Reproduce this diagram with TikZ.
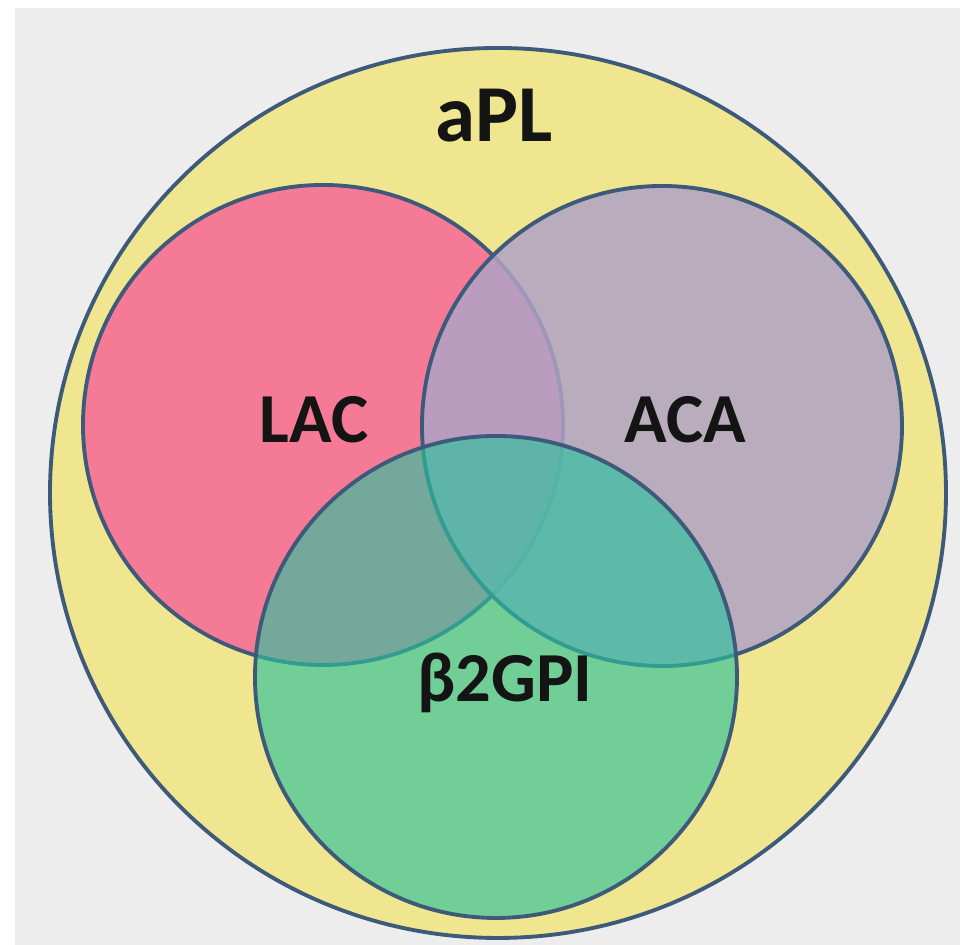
\documentclass[tikz,border=0pt]{standalone}
\usepackage{fontspec}
\setmainfont{Carlito}
\usepackage{tikz}
\usetikzlibrary{shapes.geometric,positioning}
\definecolor{bggrey}{RGB}{237,237,237}
\definecolor{rimblue}{RGB}{62,90,122}
\definecolor{aplyellow}{RGB}{239,230,143}
\definecolor{lacpink}{RGB}{244,122,150}
\definecolor{acapurple}{RGB}{175,162,198}
\definecolor{gpigreen}{RGB}{44,194,157}

\begin{document}
\begin{tikzpicture}[
  setcircle/.style={circle, draw=rimblue, line width=1.1pt,
    inner sep=0pt, outer sep=0pt, minimum size=4.8cm},
  setlabel/.style={font=\bfseries\fontsize{20}{24}\selectfont,
    text=black!92, inner sep=0pt}
]
  % page and backdrop
  \fill[white] (0,0) rectangle (9.6,9.45);
  \fill[bggrey] (0.15,0) rectangle (9.6,9.37);
  \useasboundingbox (0,0) rectangle (9.6,9.45);

  % all antiphospholipid antibodies
  \node[ellipse, draw=rimblue, line width=1.1pt, fill=aplyellow,
    inner sep=0pt, outer sep=0pt, minimum width=8.96cm,
    minimum height=8.90cm] (apl) at (4.98,4.52) {};

  % the three tests
  \node[setcircle, fill=lacpink] (lac) at (3.23,5.20) {};
  \node[setcircle, fill=acapurple, fill opacity=0.85] (aca) at (6.62,5.19) {};
  \node[setcircle, fill=gpigreen, fill opacity=0.64,
    minimum size=4.82cm] (gpi) at (4.96,2.68) {};

  \node[setlabel, font=\bfseries\fontsize{23}{28}\selectfont]
    (aplText) at (4.94,8.29) {aPL};
  \node[setlabel] (lacText) at ([xshift=-0.09cm, yshift=0.05cm]lac.center) {LAC};
  \node[setlabel] (acaText) at ([xshift=0.23cm, yshift=0.06cm]aca.center) {ACA};
  \node[setlabel] (gpiText) at ([xshift=0.09cm, yshift=-0.06cm]gpi.center) {β2GPI};
\end{tikzpicture}
\end{document}
